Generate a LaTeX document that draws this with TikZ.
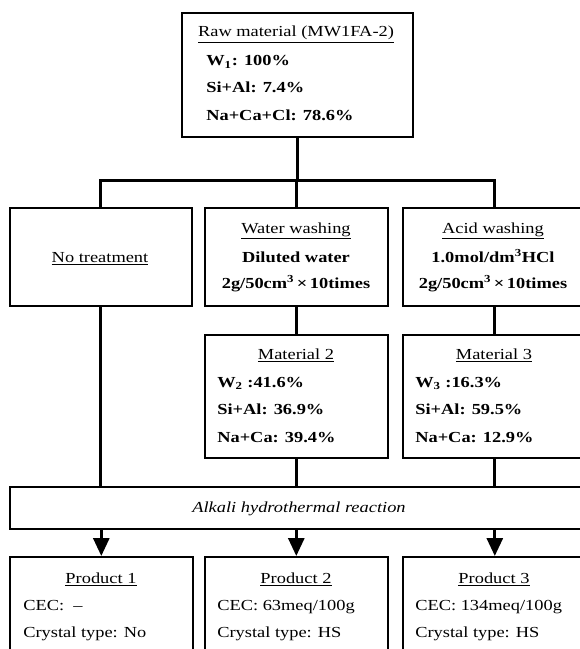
\documentclass[tikz,border=0pt]{standalone}
\usepackage{fontspec}
\setmainfont[FakeStretch=1.2]{Liberation Serif}
\usetikzlibrary{arrows.meta}
\tikzset{
  box/.style={draw, line width=1.2pt, rectangle, inner sep=0pt, anchor=north west},
  conn/.style={line width=2.2pt},
  arr/.style={line width=2.2pt, -{Triangle[width=12pt,length=13.5pt]}},
  ttl/.style={anchor=base, inner sep=0pt, font=\fontsize{11.5pt}{14pt}\selectfont},
  txt/.style={anchor=base west, inner sep=0pt, font=\fontsize{11.5pt}{14pt}\selectfont},
  btxt/.style={anchor=base west, inner sep=0pt, font=\fontsize{11.5pt}{14pt}\selectfont\bfseries},
  bttl/.style={anchor=base, inner sep=0pt, font=\fontsize{11.5pt}{14pt}\selectfont\bfseries},
}
\begin{document}
\begin{tikzpicture}[x=0.75pt,y=-0.75pt]
\useasboundingbox (0,0) rectangle (580,649);
\fill[white] (0,0) rectangle (580,649);

% boxes
\node[box, minimum width=173.25pt, minimum height=93pt] (raw) at (181,12) {};
\node[box, minimum width=136.5pt, minimum height=73.5pt] (notreat) at (9,207) {};
\node[box, minimum width=137.25pt, minimum height=73.5pt] (water) at (204,207) {};
\node[box, minimum width=138pt, minimum height=73.5pt] (acid) at (402,207) {};
\node[box, minimum width=137.25pt, minimum height=92.25pt] (mat2) at (204,334) {};
\node[box, minimum width=138pt, minimum height=92.25pt] (mat3) at (402,334) {};
\node[box, minimum width=432.75pt, minimum height=31.5pt] (alkali) at (9,486) {};
\node[box, minimum width=137.25pt, minimum height=93pt] (prod1) at (9,556) {};
\node[box, minimum width=137.25pt, minimum height=93pt] (prod2) at (204,556) {};
\node[box, minimum width=138pt, minimum height=93pt] (prod3) at (402,556) {};

% connectors
\draw[conn] (raw.south) -- ++(0,43) coordinate (hub);
\draw[conn] (notreat.north) |- (hub) -| (acid.north);
\draw[conn] (water.north |- hub) -- (water.north);
\draw[conn] (notreat.south) -- (notreat.south |- alkali.north);
\draw[conn] (water.south) -- (mat2.north);
\draw[conn] (acid.south) -- (mat3.north);
\draw[conn] (mat2.south) -- (mat2.south |- alkali.north);
\draw[conn] (mat3.south) -- (mat3.south |- alkali.north);
\draw[arr] (prod1.north |- alkali.south) -- (prod1.north);
\draw[arr] (prod2.north |- alkali.south) -- (prod2.north);
\draw[arr] (prod3.north |- alkali.south) -- (prod3.north);

% raw material
\node[ttl] (rawt) at (296,37) {\underline{Raw material (MW1FA-2)}};
\node[btxt] (raw1) at (206,66) {W\textsubscript{1}: 100\%};
\node[btxt] (raw2) at (206,93) {Si+Al: 7.4\%};
\node[btxt] (raw3) at (206,121) {Na+Ca+Cl: 78.6\%};

% treatments
\node[ttl] (nott) at (100,262) {\underline{No treatment}};
\node[ttl] (watt) at (296,233) {\underline{Water washing}};
\node[bttl] (wat1) at (296,262) {Diluted water};
\node[bttl] (wat2) at (296,288) {2g/50cm\textsuperscript{3}\,×\,10times};
\node[ttl] (acit) at (493,233) {\underline{Acid washing}};
\node[bttl] (aci1) at (493,262) {1.0mol/dm\textsuperscript{3}HCl};
\node[bttl] (aci2) at (493,288) {2g/50cm\textsuperscript{3}\,×\,10times};

% materials
\node[ttl] (m2t) at (296,359) {\underline{Material 2}};
\node[btxt] (m21) at (217,387) {W\textsubscript{2} :41.6\%};
\node[btxt] (m22) at (217,414) {Si+Al: 36.9\%};
\node[btxt] (m23) at (217,442) {Na+Ca: 39.4\%};
\node[ttl] (m3t) at (494,359) {\underline{Material 3}};
\node[btxt] (m31) at (415,387) {W\textsubscript{3} :16.3\%};
\node[btxt] (m32) at (415,414) {Si+Al: 59.5\%};
\node[btxt] (m33) at (415,442) {Na+Ca: 12.9\%};

% alkali
\node[ttl] (alkt) at (299,512) {\itshape Alkali hydrothermal reaction};

% products
\node[ttl] (p1t) at (101,583) {\underline{Product 1}};
\node[txt] (p11) at (23,610) {CEC:~~–};
\node[txt] (p12) at (23,637) {Crystal type: No};
\node[ttl] (p2t) at (296,583) {\underline{Product 2}};
\node[txt] (p21) at (217,610) {CEC: 63meq/100g};
\node[txt] (p22) at (217,637) {Crystal type: HS};
\node[ttl] (p3t) at (494,583) {\underline{Product 3}};
\node[txt] (p31) at (415,610) {CEC: 134meq/100g};
\node[txt] (p32) at (415,637) {Crystal type: HS};
\end{tikzpicture}
\end{document}
